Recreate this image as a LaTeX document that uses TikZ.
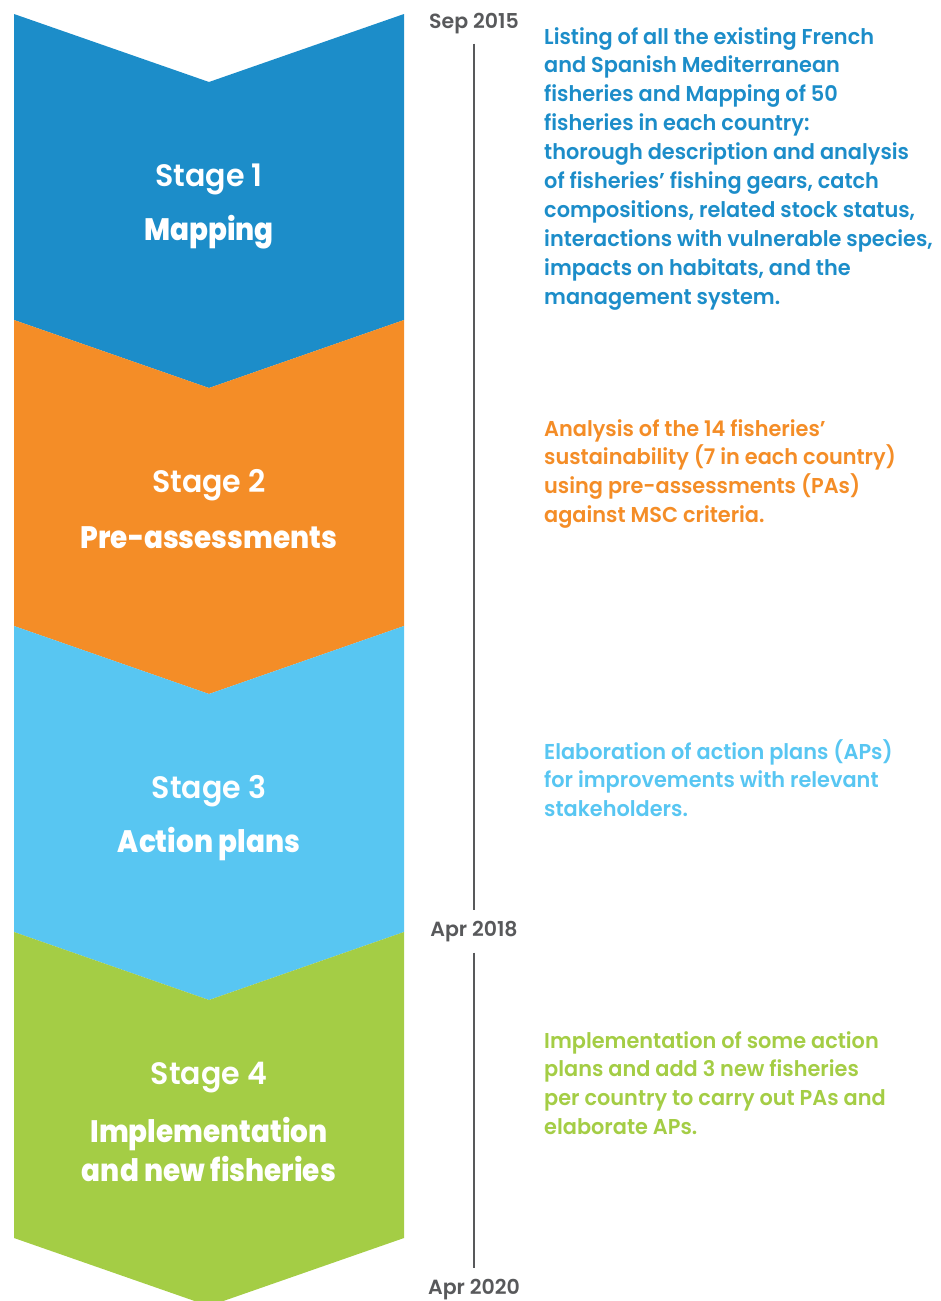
\documentclass[tikz,border=0pt]{standalone}
\usepackage{fontspec}
\setmainfont{Poppins}
\newfontfamily\semib{Poppins SemiBold}
\newfontfamily\descfont{Poppins SemiBold}[FakeStretch=0.97]
\newfontfamily\numfont{Poppins SemiBold}[FakeStretch=0.97]
\newfontfamily\heavy{Poppins ExtraBold}[FakeStretch=0.9]
\definecolor{cBlue}{HTML}{1C8DC9}
\definecolor{cOrange}{HTML}{F48D27}
\definecolor{cSky}{HTML}{58C6F2}
\definecolor{cGreen}{HTML}{A4CD45}
\definecolor{cGray}{HTML}{58595B}
\tikzset{
  band/.style={fill=#1, draw=none},
  stagenum/.style={text=white, font=\numfont\fontsize{31}{34}\selectfont, inner sep=0},
  stagename/.style={text=white, font=\heavy\fontsize{31}{39}\selectfont, inner sep=0, align=center},
  desc/.style={text=#1, font=\descfont\fontsize{21.5}{28.9}\selectfont, inner sep=0, align=left, anchor=north west},
  datelbl/.style={text=cGray, font=\semib\fontsize{20.5}{22}\selectfont, inner sep=0},
  tline/.style={draw=cGray, line width=2.5pt}
}
\begin{document}
\begin{tikzpicture}[x=1pt, y=-1pt]
\useasboundingbox (0,0) rectangle (941,1301);
% four chevron bands, each 306 tall with a 68 deep notch
\foreach \k/\c in {0/cBlue, 1/cOrange, 2/cSky, 3/cGreen}{
  \fill[band=\c] (14,14+306*\k) -- (209,82+306*\k) -- (404,14+306*\k)
    -- (404,320+306*\k) -- (209,388+306*\k) -- (14,320+306*\k) -- cycle;
}
% stage titles
\node[stagenum] (s1) at (209,179) {Stage 1};
\node[stagename] (n1) at (209,232) {Mapping};
\node[stagenum] (s2) at (209,485) {Stage 2};
\node[stagename] (n2) at (209,538) {Pre-assessments};
\node[stagenum] (s3) at (209,791) {Stage 3};
\node[stagename] (n3) at (209,844) {Action plans};
\node[stagenum] (s4) at (209,1078) {Stage 4};
\node[stagename] (n4) at (209,1149) {Implementation\\and new fisheries};
% timeline
\node[datelbl] (d1) at (474,24) {Sep 2015};
\node[datelbl] (d2) at (474,932) {Apr 2018};
\node[datelbl] (d3) at (474,1290) {Apr 2020};
\draw[tline] ([yshift=-9]d1.south) -- ([yshift=11]d2.north);
\draw[tline] ([yshift=-10]d2.south) -- ([yshift=11]d3.north);
% descriptions
\node[desc=cBlue] (t1) at (544,27) {Listing of all the existing French\\and Spanish Mediterranean\\fisheries and Mapping of 50\\fisheries in each country:\\thorough description and analysis\\of fisheries’ fishing gears, catch\\compositions, related stock status,\\interactions with vulnerable species,\\impacts on habitats, and the\\management system.};
\node[desc=cOrange] (t2) at (544,419) {Analysis of the 14 fisheries’\\sustainability (7 in each country)\\using pre-assessments (PAs)\\against MSC criteria.};
\node[desc=cSky] (t3) at (544,739) {Elaboration of action plans (APs)\\for improvements with relevant\\stakeholders.};
\node[desc=cGreen] (t4) at (544,1031) {Implementation of some action\\plans and add 3 new fisheries\\per country to carry out PAs and\\elaborate APs.};
\end{tikzpicture}
\end{document}
